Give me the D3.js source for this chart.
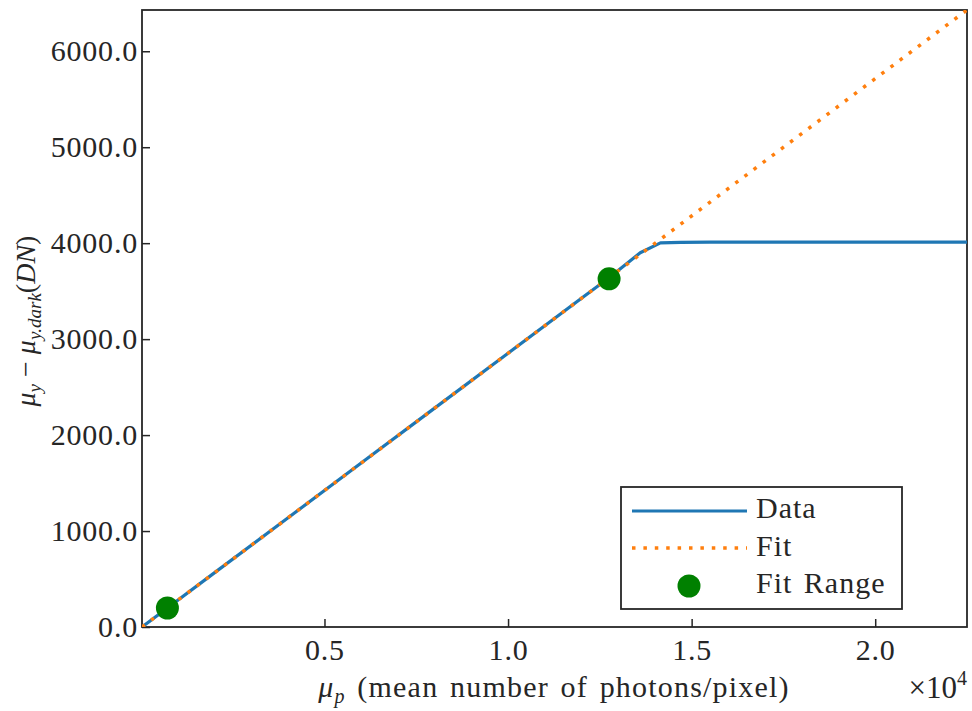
<!DOCTYPE html>
<html>
<head>
<meta charset="utf-8">
<script src="https://cdn.jsdelivr.net/npm/d3@7"></script>
<style>
  body { margin: 0; background: #fff; }
  text { font-family: "Liberation Serif", "DejaVu Serif", serif; fill: #262626; }
</style>
</head>
<body>
<div id="chart"></div>
<script>
// Datos
const dataX = [30, 722, 2000, 4000, 6000, 8000, 10000, 12000, 12752, 13600, 14150, 14700, 15500, 17000, 20000, 22500];
const dataY = [0, 198, 564, 1136, 1709, 2281, 2853, 3426, 3640, 3900, 4003, 4008, 4010, 4010, 4010, 4010];
const fitX = [30, 22500];
const fitY = [0, 6430];
const rangeX = [722, 12752];
const rangeY = [198, 3628];
const yTicks = [0, 1000, 2000, 3000, 4000, 5000, 6000];
const xTicks = [5000, 10000, 15000, 20000];
const legendLabels = ["Data", "Fit", "Fit Range"];

const width = 972;
const height = 711;
const margin = { top: 10, bottom: 84, left: 142, right: 5 };

const svg = d3
  .select("div#chart")
  .append("svg")
  .attr("width", width)
  .attr("height", height);

const x = d3.scaleLinear().domain([30, 22500]).range([margin.left, width - margin.right]);
const y = d3.scaleLinear().domain([0, 6430]).range([height - margin.bottom, margin.top]);

// Ejes
const xAxis = d3.axisBottom(x).tickValues(xTicks).tickSize(-8).tickPadding(12)
  .tickFormat((d) => d3.format(".1f")(d / 1e4));
const yAxis = d3.axisLeft(y).tickValues(yTicks).tickSize(-8).tickPadding(4)
  .tickFormat(d3.format(".1f"));

const xAxisGroup = svg.append("g")
  .attr("transform", `translate(0, ${height - margin.bottom})`)
  .call(xAxis);
const yAxisGroup = svg.append("g")
  .attr("transform", `translate(${margin.left}, 0)`)
  .call(yAxis);

[xAxisGroup, yAxisGroup].forEach((g) => {
  g.select(".domain").remove();
  g.selectAll(".tick line").attr("stroke", "#262626").attr("stroke-width", 1.5);
  g.selectAll(".tick text").attr("font-size", 30).attr("fill", "#262626")
    .style("font-family", '"Liberation Serif", serif')
    .style("letter-spacing", "0.8px");
});

// Caja
svg.append("rect")
  .attr("x", margin.left)
  .attr("y", margin.top)
  .attr("width", width - margin.left - margin.right)
  .attr("height", height - margin.top - margin.bottom)
  .attr("fill", "none")
  .attr("stroke", "#262626")
  .attr("stroke-width", 1.8);

svg.append("clipPath").attr("id", "clip")
  .append("rect")
  .attr("x", margin.left).attr("y", margin.top)
  .attr("width", width - margin.left - margin.right)
  .attr("height", height - margin.top - margin.bottom);

const line = d3.line().x((d) => x(d[0])).y((d) => y(d[1]));

const plot = svg.append("g").attr("clip-path", "url(#clip)");

plot.append("path")
  .datum(dataX.map((d, i) => [d, dataY[i]]))
  .attr("d", line)
  .attr("fill", "none")
  .attr("stroke", "#1f77b4")
  .attr("stroke-width", 3.2)
  .attr("stroke-linejoin", "round");

plot.append("path")
  .datum(fitX.map((d, i) => [d, fitY[i]]))
  .attr("d", line)
  .attr("fill", "none")
  .attr("stroke", "#ff7f0e")
  .attr("stroke-width", 3.5)
  .attr("stroke-dasharray", "3.5,7.9");

svg.append("g")
  .selectAll("circle")
  .data(rangeX.map((d, i) => [d, rangeY[i]]))
  .enter()
  .append("circle")
  .attr("cx", (d) => x(d[0]))
  .attr("cy", (d) => y(d[1]))
  .attr("r", 11.5)
  .attr("fill", "green");

// Etiquetas de ejes
const xLabel = svg.append("text")
  .attr("x", 554)
  .attr("y", 697)
  .attr("text-anchor", "middle")
  .attr("font-size", 30)
  .style("letter-spacing", "1.2px")
  .style("word-spacing", "3px");
xLabel.append("tspan").attr("font-style", "italic").text("μ");
xLabel.append("tspan").attr("font-style", "italic").attr("font-size", 20).attr("dy", 6).text("p");
xLabel.append("tspan").attr("dy", -6).text("  (mean number of photons/pixel)");

const xExp = svg.append("text")
  .attr("x", 967)
  .attr("y", 698)
  .attr("text-anchor", "end")
  .attr("font-size", 31);
xExp.append("tspan").text("×10");
xExp.append("tspan").attr("font-size", 20).attr("dy", -13).text("4");

const yLabel = svg.append("text")
  .attr("transform", "translate(35, 321) rotate(-90)")
  .attr("text-anchor", "middle")
  .attr("font-size", 28);
yLabel.append("tspan").attr("font-style", "italic").text("μ");
yLabel.append("tspan").attr("font-style", "italic").attr("font-size", 19).attr("dy", 6).text("y");
yLabel.append("tspan").attr("dy", -6).text(" − ");
yLabel.append("tspan").attr("font-style", "italic").text("μ");
yLabel.append("tspan").attr("font-style", "italic").attr("font-size", 19).attr("dy", 6).text("y.dark");
yLabel.append("tspan").attr("dy", -6).text("(");
yLabel.append("tspan").attr("font-style", "italic").text("DN");
yLabel.append("tspan").text(")");

// Leyenda
const legend = svg.append("g").attr("transform", "translate(621, 487)");
legend.append("rect")
  .attr("width", 281)
  .attr("height", 122)
  .attr("fill", "#fff")
  .attr("stroke", "#262626")
  .attr("stroke-width", 1.8);

legend.append("line")
  .attr("x1", 11).attr("x2", 126).attr("y1", 24).attr("y2", 24)
  .attr("stroke", "#1f77b4").attr("stroke-width", 3.2);
legend.append("line")
  .attr("x1", 11).attr("x2", 126).attr("y1", 61).attr("y2", 61)
  .attr("stroke", "#ff7f0e").attr("stroke-width", 3.5)
  .attr("stroke-dasharray", "3.5,7.9");
legend.append("circle")
  .attr("cx", 68).attr("cy", 99).attr("r", 11.5).attr("fill", "green");

legend.selectAll("text.lbl")
  .data(legendLabels)
  .enter()
  .append("text")
  .attr("class", "lbl")
  .attr("x", 135)
  .attr("y", (d, i) => 31 + i * 37.5)
  .attr("font-size", 30)
  .style("letter-spacing", "1px")
  .style("word-spacing", "3px")
  .text((d) => d);
</script>
</body>
</html>
